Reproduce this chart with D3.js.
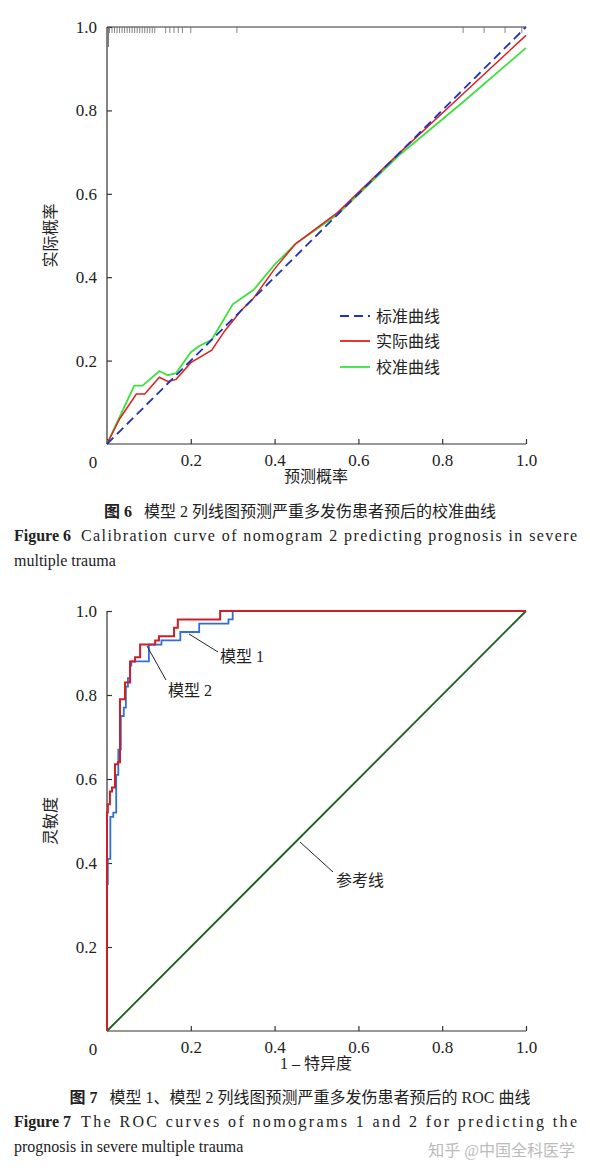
<!DOCTYPE html><html><head><meta charset="utf-8"><script src="https://cdn.jsdelivr.net/npm/d3@7"></script>
<style>body{margin:0;background:#fff}svg text{font-family:"Liberation Serif","Noto Sans CJK SC",serif !important;fill:#222}</style></head><body><svg id="s" width="590" height="1175"></svg><script>
const ticks=[0,0.2,0.4,0.6,0.8,1.0];
const ideal=[[0,0],[1,1]];
const apparent=[[0,0],[0.03,0.06],[0.07,0.12],[0.09,0.12],[0.125,0.16],[0.145,0.15],[0.165,0.155],[0.2,0.195],[0.25,0.225],[0.28,0.27],[0.32,0.32],[0.35,0.35],[0.4,0.42],[0.45,0.48],[0.55,0.555],[0.7,0.7],[0.85,0.84],[1,0.98]];
const corrected=[[0,0],[0.065,0.14],[0.085,0.14],[0.125,0.175],[0.145,0.165],[0.165,0.17],[0.2,0.22],[0.22,0.235],[0.25,0.25],[0.3,0.335],[0.35,0.37],[0.4,0.43],[0.45,0.48],[0.55,0.55],[0.7,0.695],[0.85,0.82],[1,0.95]];
const rug=[0.006,0.012,0.018,0.024,0.03,0.036,0.042,0.048,0.054,0.06,0.066,0.072,0.078,0.084,0.09,0.096,0.102,0.108,0.114,0.14,0.15,0.16,0.17,0.18,0.2,0.31,0.85,0.9,0.95,0.99];
const m1=[[0,0],[0,0.35],[0.002,0.35],[0.002,0.41],[0.008,0.41],[0.008,0.51],[0.015,0.51],[0.015,0.52],[0.022,0.52],[0.022,0.61],[0.027,0.61],[0.027,0.67],[0.033,0.67],[0.033,0.75],[0.04,0.75],[0.04,0.77],[0.045,0.77],[0.045,0.82],[0.05,0.82],[0.05,0.84],[0.055,0.84],[0.055,0.87],[0.058,0.87],[0.058,0.88],[0.1,0.88],[0.1,0.92],[0.13,0.92],[0.13,0.93],[0.175,0.93],[0.175,0.95],[0.22,0.95],[0.22,0.97],[0.29,0.97],[0.29,0.98],[0.3,0.98],[0.3,1],[1,1]];
const m2=[[0,0],[0,0.52],[0.002,0.52],[0.002,0.54],[0.007,0.54],[0.007,0.57],[0.012,0.57],[0.012,0.58],[0.019,0.58],[0.019,0.635],[0.026,0.635],[0.026,0.64],[0.031,0.64],[0.031,0.79],[0.043,0.79],[0.043,0.83],[0.055,0.83],[0.055,0.88],[0.067,0.88],[0.067,0.89],[0.079,0.89],[0.079,0.92],[0.115,0.92],[0.115,0.93],[0.124,0.93],[0.124,0.94],[0.16,0.94],[0.16,0.96],[0.169,0.96],[0.169,0.98],[0.27,0.98],[0.27,1],[1,1]];
const svg=d3.select("#s");
const FS="17px";
function axes(y0,y1,xl,yl){
 const x=d3.scaleLinear([0,1],[107,526]),y=d3.scaleLinear([0,1],[y0,y1]);
 const fmt=d=>d===0?"":d.toFixed(1);
 const gx=svg.append("g").attr("transform",`translate(0,${y0})`).call(d3.axisBottom(x).tickValues(ticks).tickFormat(fmt).tickSize(-5).tickPadding(10));
 const gy=svg.append("g").attr("transform","translate(107,0)").call(d3.axisLeft(y).tickValues(ticks.slice(1)).tickFormat(fmt).tickSize(-5).tickPadding(10));
 [gx,gy].forEach(g=>{g.attr("font-family",null);g.selectAll("path,line").attr("stroke","#333").attr("stroke-width",1.2);g.select(".domain").attr("d",g===gx?"M107,0H526":`M0,${y0}V${y1}`);g.selectAll("text").style("font-size",FS).attr("fill","#222");});
 svg.append("text").attr("x",93).attr("y",y0+24).attr("text-anchor","middle").style("font-size",FS).text("0");
 svg.append("text").attr("x",316).attr("y",y0+38).attr("text-anchor","middle").style("font-size","16px").text(xl);
 svg.append("text").attr("transform",`translate(56,${(y0+y1)/2}) rotate(-90)`).attr("text-anchor","middle").style("font-size","16px").text(yl);
 return [x,y];
}
let [x,y]=axes(444,27,"预测概率","实际概率");
svg.append("line").attr("x1",107).attr("x2",526).attr("y1",27).attr("y2",27).attr("stroke","#333").attr("stroke-width",1.2);
svg.append("line").attr("x1",x(0.003)).attr("x2",x(0.003)).attr("y1",27).attr("y2",47).attr("stroke","#555");
svg.selectAll(".rug").data(rug).join("line").attr("x1",d=>x(d)).attr("x2",d=>x(d)).attr("y1",27).attr("y2",33).attr("stroke","#666").attr("stroke-width",0.8);
let L=d3.line().x(d=>x(d[0])).y(d=>y(d[1]));
svg.append("path").attr("d",L(corrected)).attr("fill","none").attr("stroke","#3ee03e").attr("stroke-width",1.8);
svg.append("path").attr("d",L(apparent)).attr("fill","none").attr("stroke","#e02020").attr("stroke-width",1.5);
svg.append("path").attr("d",L(ideal)).attr("fill","none").attr("stroke","#2233bb").attr("stroke-width",1.8).attr("stroke-dasharray","9,5");
[["标准曲线","#2233bb","9,5",316],["实际曲线","#e02020",null,341],["校准曲线","#3ee03e",null,367]].forEach(([t,c,da,yy])=>{
 svg.append("line").attr("x1",340).attr("x2",370).attr("y1",yy).attr("y2",yy).attr("stroke",c).attr("stroke-width",1.8).attr("stroke-dasharray",da);
 svg.append("text").attr("x",376).attr("y",yy+6).style("font-size","16px").text(t);});
[x,y]=axes(1031,611,"1 – 特异度","灵敏度");
L=d3.line().x(d=>x(d[0])).y(d=>y(d[1]));
svg.append("path").attr("d",L(ideal)).attr("fill","none").attr("stroke","#1a5e1a").attr("stroke-width",1.8);
svg.append("path").attr("d",L(m1)).attr("fill","none").attr("stroke","#2f6fd6").attr("stroke-width",1.8);
svg.append("path").attr("d",L(m2)).attr("fill","none").attr("stroke","#cc1f2a").attr("stroke-width",2);
function ann(ax,ay,bx,by,tx,ty,t){svg.append("line").attr("x1",ax).attr("y1",ay).attr("x2",bx).attr("y2",by).attr("stroke","#222");svg.append("text").attr("x",tx).attr("y",ty).style("font-size","16px").text(t);}
ann(189,634,218,652,220,662,"模型 1");
ann(147,646,166,680,168,696,"模型 2");
ann(300,842,333,872,336,886,"参考线");
function cap(yy,bold,rest){const t=svg.append("text").attr("x",14).attr("y",yy).style("font-size","16px");t.append("tspan").style("font-weight","bold").text(bold);t.append("tspan").attr("dx",10).attr("textLength",496).text(rest);}
svg.append("text").attr("x",300).attr("y",517).attr("text-anchor","middle").style("font-size","16px").html('<tspan font-weight="bold">图 6</tspan><tspan dx="12">模型 2 列线图预测严重多发伤患者预后的校准曲线</tspan>');
cap(541,"Figure 6","Calibration curve of nomogram 2 predicting prognosis in severe");
svg.append("text").attr("x",14).attr("y",566).style("font-size","16px").text("multiple trauma");
svg.append("text").attr("x",300).attr("y",1103).attr("text-anchor","middle").style("font-size","16px").html('<tspan font-weight="bold">图 7</tspan><tspan dx="12">模型 1、模型 2 列线图预测严重多发伤患者预后的 ROC 曲线</tspan>');
cap(1127,"Figure 7","The ROC curves of nomograms 1 and 2 for predicting the");
svg.append("text").attr("x",14).attr("y",1152).style("font-size","16px").text("prognosis in severe multiple trauma");
svg.append("text").attr("x",575).attr("y",1156).attr("text-anchor","end").style("font-size","16px").style("fill","#bbb").text("知乎 @中国全科医学");
</script></body></html>
